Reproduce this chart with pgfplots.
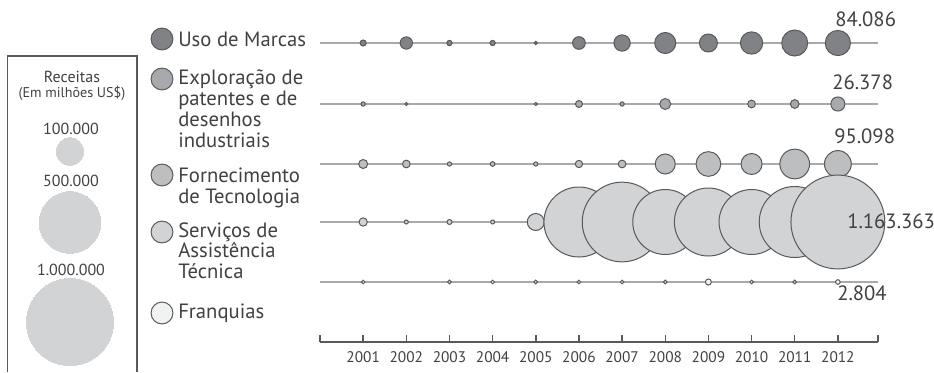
\documentclass[border=0pt]{standalone}
\usepackage{pgfplots}
\usepackage{pgfplotstable}
\pgfplotsset{compat=1.18}
\usepackage{fontspec}
\setmainfont{PT Sans}
\definecolor{txt}{HTML}{414042}
\definecolor{strk}{HTML}{58595B}
\definecolor{rowline}{HTML}{A7A9AC}
\definecolor{cA}{HTML}{808285}
\definecolor{cB}{HTML}{A7A9AC}
\definecolor{cC}{HTML}{BCBEC0}
\definecolor{cD}{HTML}{D1D3D4}
\definecolor{cE}{HTML}{F1F2F2}

% Receitas (em milhoes US$)
\pgfplotstableread{
year v
2001 4800
2002 20000
2003 3700
2004 3700
2005 1400
2006 21300
2007 35100
2008 58300
2009 42800
2010 65700
2011 89300
2012 84086
}\usoTab
\pgfplotstableread{
year v
2001 2440
2002 1300
2005 1300
2006 6470
2007 2440
2008 16000
2010 7830
2011 10000
2012 26378
}\explTab
\pgfplotstableread{
year v
2001 10700
2002 7830
2003 2440
2004 2920
2005 2440
2006 7040
2007 7830
2008 52800
2009 80600
2010 58300
2011 116500
2012 95098
}\fornTab
\pgfplotstableread{
year v
2001 9100
2002 2110
2003 3300
2004 2110
2005 38200
2006 647400
2007 839200
2008 558200
2009 611000
2010 558200
2011 666000
2012 1163363
}\servTab
\pgfplotstableread{
year v
2001 1800
2003 1800
2004 1800
2005 1800
2006 1800
2007 1800
2008 1800
2009 4760
2010 1800
2011 1800
2012 2804
}\franTab
\pgfplotstableread{
x y v
70 151.5 100000
70 222.5 500000
70 322 1000000
}\legTab

\pgfplotsset{
  bubble/.style={only marks, mark=*, scatter, point meta=explicit,
    scatter/use mapped color={draw=strk, fill=#1},
    mark options={line width=0.75pt},
    scatter/@pre marker code/.append style={/tikz/mark size={1.13017*sqrt(\pgfplotspointmetatransformed)}}},
}
\newcommand{\catfont}{\fontsize{15.5}{18}\selectfont}
\newcommand{\legfont}{\fontsize{12}{14}\selectfont}

\begin{document}
\begin{tikzpicture}
\path[use as bounding box] (0,0) rectangle (700.5pt,279pt);

% main chart axis (years)
\begin{axis}[
  at={(240pt,22.5pt)}, anchor=south west,
  scale only axis, width=418.5pt, height=256.5pt,
  xmin=2000, xmax=2012.93, ymin=0, ymax=342,
  clip=false,
  axis x line=bottom, axis y line=none,
  x axis line style={-, draw=strk, line width=1.5pt},
  xtick={2000,2001,2002,2003,2004,2005,2006,2007,2008,2009,2010,2011,2012,2012.93},
  xticklabels={,2001,2002,2003,2004,2005,2006,2007,2008,2009,2010,2011,2012,},
  tick align=inside, major tick length=5.5pt,
  every tick/.style={draw=strk, line width=1.1pt},
  xticklabel style={font=\fontsize{11.5}{13}\selectfont, text=txt, anchor=base, yshift=-15.6pt, inner sep=0pt},
  point meta min=0, point meta max=1200000,
]
\addplot[rowline, line width=1.1pt, forget plot] coordinates {(2000,299) (2012.93,299)};
\addplot[rowline, line width=1.1pt, forget plot] coordinates {(2000,238) (2012.93,238)};
\addplot[rowline, line width=1.1pt, forget plot] coordinates {(2000,178) (2012.93,178)};
\addplot[rowline, line width=1.1pt, forget plot] coordinates {(2000,120) (2012.93,120)};
\addplot[rowline, line width=1.1pt, forget plot] coordinates {(2000,60) (2012.93,60)};

\addplot[bubble=cA] table[x=year, y expr=299, meta=v] {\usoTab};
\addplot[bubble=cB] table[x=year, y expr=238, meta=v] {\explTab};
\addplot[bubble=cC] table[x=year, y expr=178, meta=v] {\fornTab};
\addplot[bubble=cD] table[x=year, y expr=120, meta=v] {\servTab};
\addplot[bubble=cE] table[x=year, y expr=60, meta=v] {\franTab};
\end{axis}

% overlay axis in pixel units (legends and labels)
\begin{axis}[
  at={(0pt,0pt)}, anchor=south west,
  scale only axis, width=700.5pt, height=279pt,
  xmin=0, xmax=934, ymin=0, ymax=372, y dir=reverse,
  hide axis, clip=false,
  point meta min=0, point meta max=1200000,
]
% size legend box
\draw[strk, line width=1.3pt] (axis cs:7.5,372) -- (axis cs:7.5,56) -- (axis cs:137,56) -- (axis cs:137,372);
\node[anchor=base, inner sep=0pt, font=\legfont, text=txt] at (axis cs:72,82) {Receitas};
\node[anchor=base, inner sep=0pt, font=\fontsize{10.6}{12}\selectfont, text=txt] at (axis cs:72,97.5) {(Em milhões US\$)};
\node[anchor=base, inner sep=0pt, font=\legfont, text=txt] at (axis cs:71,134) {100.000};
\node[anchor=base, inner sep=0pt, font=\legfont, text=txt] at (axis cs:71,186) {500.000};
\node[anchor=base, inner sep=0pt, font=\legfont, text=txt] at (axis cs:71,275) {1.000.000};
\addplot[only marks, mark=*, scatter, point meta=explicit,
  mark options={draw=cD, fill=cD, line width=0pt},
  scatter/use mapped color={draw=cD, fill=cD},
  scatter/@pre marker code/.append style={/tikz/mark size={1.13017*sqrt(\pgfplotspointmetatransformed)}}]
  table[x=x, y=y, meta=v] {\legTab};

% category legend
\addplot[only marks, mark=*, mark size=8.2pt, mark options={draw=strk, fill=cA, line width=0.75pt}] coordinates {(162,39)};
\addplot[only marks, mark=*, mark size=8.2pt, mark options={draw=strk, fill=cB, line width=0.75pt}] coordinates {(162,79)};
\addplot[only marks, mark=*, mark size=8.2pt, mark options={draw=strk, fill=cC, line width=0.75pt}] coordinates {(162,175)};
\addplot[only marks, mark=*, mark size=8.2pt, mark options={draw=strk, fill=cD, line width=0.75pt}] coordinates {(162,232)};
\addplot[only marks, mark=*, mark size=8.2pt, mark options={draw=strk, fill=cE, line width=0.75pt}] coordinates {(162,313)};

\node[anchor=base west, inner sep=0pt, font=\catfont, text=txt] at (axis cs:178,46) {Uso de Marcas};
\node[anchor=base west, inner sep=0pt, font=\catfont, text=txt] at (axis cs:178,84) {Exploração de};
\node[anchor=base west, inner sep=0pt, font=\catfont, text=txt] at (axis cs:178,105) {patentes e de};
\node[anchor=base west, inner sep=0pt, font=\catfont, text=txt] at (axis cs:178,126) {desenhos};
\node[anchor=base west, inner sep=0pt, font=\catfont, text=txt] at (axis cs:178,147) {industriais};
\node[anchor=base west, inner sep=0pt, font=\catfont, text=txt] at (axis cs:178,182) {Fornecimento};
\node[anchor=base west, inner sep=0pt, font=\catfont, text=txt] at (axis cs:178,203) {de Tecnologia};
\node[anchor=base west, inner sep=0pt, font=\catfont, text=txt] at (axis cs:178,237) {Serviços de};
\node[anchor=base west, inner sep=0pt, font=\catfont, text=txt] at (axis cs:178,257) {Assistência};
\node[anchor=base west, inner sep=0pt, font=\catfont, text=txt] at (axis cs:178,278) {Técnica};
\node[anchor=base west, inner sep=0pt, font=\catfont, text=txt] at (axis cs:178,318) {Franquias};

% value labels
\node[anchor=base west, inner sep=0pt, font=\catfont, text=txt] at (axis cs:835,26) {84.086};
\node[anchor=base west, inner sep=0pt, font=\catfont, text=txt] at (axis cs:832,89) {26.378};
\node[anchor=base west, inner sep=0pt, font=\catfont, text=txt] at (axis cs:834,143) {95.098};
\node[anchor=base west, inner sep=0pt, font=\catfont, text=txt] at (axis cs:847,228) {1.163.363};
\node[anchor=base west, inner sep=0pt, font=\catfont, text=txt] at (axis cs:837,300) {2.804};
\end{axis}
\end{tikzpicture}
\end{document}
